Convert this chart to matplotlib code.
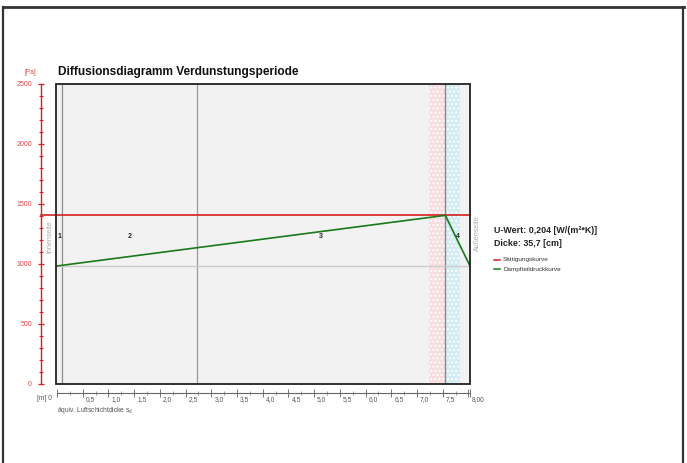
import matplotlib
matplotlib.use("Agg")
import matplotlib.pyplot as plt
from matplotlib.lines import Line2D
from matplotlib.patches import Rectangle
import matplotlib.transforms as mtransforms

plt.rcParams['font.family'] = ['Liberation Sans', 'DejaVu Sans']

# Layer boundaries on the equivalent air-layer thickness axis s_d [m]
layer_edges = [0.0, 0.10, 2.72, 7.55, 8.03]
layer_labels = ["1", "2", "3", "4"]
# hatched zones: (start, end, face colour)
hatch_zones = [(7.24, 7.55, "#f6dde0"), (7.55, 7.84, "#d3ebf3")]

# Saturation pressure and vapour partial pressure [Pa]
saturation_pa = 1403
vapour_sd = [0.0, 7.55, 8.03]
vapour_pa = [982, 1403, 982]
ambient_pa = 982

x_major = [0.5, 1.0, 1.5, 2.0, 2.5, 3.0, 3.5, 4.0, 4.5, 5.0, 5.5, 6.0, 6.5, 7.0, 7.5, 8.0]
x_major_labels = ["0,5", "1,0", "1,5", "2,0", "2,5", "3,0", "3,5", "4,0", "4,5",
                  "5,0", "5,5", "6,0", "6,5", "7,0", "7,5", "8,00"]
y_major = [0, 500, 1000, 1500, 2000, 2500]

u_value_text = "U-Wert: 0,204 [W/(m²*K)]"
thickness_text = "Dicke: 35,7 [cm]"

W, H = 687, 463
fig = plt.figure(figsize=(W / 100, H / 100), dpi=100)

# page frame
for (x0, y0, x1, y1, lw) in [(3, 7, 684, 7, 2.0), (3, 7, 3, 463, 1.6), (683, 7, 683, 463, 1.6)]:
    fig.add_artist(Line2D([x0 / W, x1 / W], [1 - y0 / H, 1 - y1 / H],
                          transform=fig.transFigure, color="#333333", lw=lw))

left, right, top, bottom = 56, 470, 83.5, 384
ax = fig.add_axes([left / W, 1 - bottom / H, (right - left) / W, (bottom - top) / H])
ax.set_xlim(-0.02, 8.03)
ax.set_ylim(0, 2500)
ax.set_facecolor("#f2f2f2")

# hatched zones
for x0, x1, col in hatch_zones:
    ax.axvspan(x0, x1, facecolor=col, edgecolor="#ffffff", hatch="....", lw=0, zorder=1)

# layer boundaries
ax.axvline(layer_edges[1], color="#8c8c8c", lw=0.9, zorder=2)
ax.axvline(layer_edges[2], color="#9a9a9a", lw=0.9, zorder=2)
ax.axvline(layer_edges[3], color="#888888", lw=1.0, zorder=2)

# ambient vapour pressure reference
ax.axhline(ambient_pa, color="#cccccc", lw=1.0, zorder=2)

# saturation curve (extends out to the pressure axis)
ax.plot([-0.31, layer_edges[-1]], [saturation_pa, saturation_pa], color="#d42020",
        lw=1.2, zorder=4, clip_on=False)
# vapour partial pressure curve
ax.plot(vapour_sd, vapour_pa, color="#1a7a1a", lw=1.2, zorder=5)

# layer numbers
for i, lab in enumerate(layer_labels):
    xm = (max(layer_edges[i], -0.02) + layer_edges[i + 1]) / 2
    ax.text(xm, 1225, lab, fontsize=5, fontweight="bold", color="#222222",
            ha="center", va="center", zorder=6)

# plot-area frame
ax.add_patch(Rectangle((0, 0), 1, 1, transform=ax.transAxes, fill=False,
                       edgecolor="#222222", lw=1.3, zorder=7, clip_on=False))

for s in ["top", "right"]:
    ax.spines[s].set_visible(False)

# pressure axis
ax.spines["left"].set_position(("outward", 10.8))
ax.spines["left"].set_color("#d42020")
ax.spines["left"].set_linewidth(1.0)
ax.spines["left"].set_bounds(0, 2500)
ax.set_yticks(y_major)
ax.set_yticks(range(0, 2501, 100), minor=True)
ax.set_yticklabels([str(v) for v in y_major])
ax.tick_params(axis="y", which="major", direction="inout", length=5, width=0.9,
               colors="#d42020", labelsize=5, pad=4, labelcolor="#e04848")
ax.tick_params(axis="y", which="minor", direction="inout", length=3.5, width=0.8,
               colors="#d42020")

# s_d axis
ax.spines["bottom"].set_position(("outward", 6.5))
ax.spines["bottom"].set_color("#666666")
ax.spines["bottom"].set_linewidth(0.8)
ax.spines["bottom"].set_bounds(0, 8.03)
ax.set_xticks([0] + x_major + [8.03])
ax.set_xticks([v / 4 for v in range(1, 32, 2)], minor=True)
ax.set_xticklabels([""] * (len(x_major) + 2))
ax.tick_params(axis="x", which="major", direction="inout", length=6, width=0.7,
               colors="#777777")
ax.tick_params(axis="x", which="minor", direction="inout", length=3, width=0.6,
               colors="#888888")

lab_tr = ax.get_xaxis_transform() + mtransforms.ScaledTranslation(3 / 100, -19 / 100, fig.dpi_scale_trans)
for v, lab in zip(x_major, x_major_labels):
    ax.text(v, 0, lab, transform=lab_tr, fontsize=4.8, color="#555555", ha="left", va="bottom")

# free-standing labels
def ftext(px, py, s, **kw):
    fig.text(px / W, 1 - py / H, s, **kw)

ftext(58, 72, "Diffusionsdiagramm Verdunstungsperiode", fontsize=8.6, fontweight="bold",
      color="#111111", va="center", ha="left")
ftext(30, 72, "[Pa]", fontsize=4.8, color="#e04848", va="center", ha="center")
ftext(44, 399, "[m] 0", fontsize=4.8, color="#555555", va="center", ha="center")
ftext(57, 411, "äquiv. Luftschichtdicke s$_{\\mathregular{d}}$", fontsize=4.8,
      color="#555555", va="center", ha="left")
ftext(50, 237, "Innenseite", fontsize=5, color="#aaaaaa", rotation=90, va="center", ha="center")
ftext(477, 233, "Außenseite", fontsize=5, color="#aaaaaa", rotation=90, va="center", ha="center")

ftext(494, 231, u_value_text, fontsize=6.4, fontweight="bold", color="#222222", va="center")
ftext(494, 244, thickness_text, fontsize=6.4, fontweight="bold", color="#222222", va="center")

for py, col, s in [(260, "#d42020", "Sättigungskurve"), (269, "#1a7a1a", "Dampfteildruckkurve")]:
    fig.add_artist(Line2D([494 / W, 500 / W], [1 - py / H, 1 - py / H],
                          transform=fig.transFigure, color=col, lw=1.1))
    ftext(503, py, s, fontsize=4.6, color="#333333", va="center", ha="left")

fig.savefig("out.png", dpi=100)
